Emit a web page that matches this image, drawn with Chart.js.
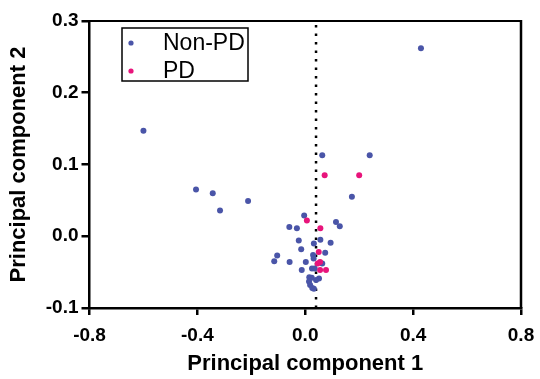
<!DOCTYPE html>
<html>
<head>
<meta charset="utf-8">
<script src="https://cdn.jsdelivr.net/npm/chart.js@4"></script>
<style>
html,body{margin:0;padding:0;background:#fff;}
#wrap{width:540px;height:379px;position:relative;}
</style>
</head>
<body>
<div id="wrap"><canvas id="c" width="540" height="379"></canvas></div>
<script>
// Data
const seriesNames = ["Non-PD", "PD"];
const nonPdX = [0.429,-0.600,-0.405,-0.343,-0.212,-0.316,0.063,0.239,0.173,-0.004,0.114,0.128,-0.059,-0.031,-0.024,0.032,0.056,0.094,-0.015,0.074,0.029,-0.104,-0.115,-0.058,0.002,0.031,0.063,0.025,0.035,-0.013,0.015,0.024,0.051,0.040,0.014,0.018,0.026,0.032];
const nonPdY = [0.262,0.147,0.065,0.060,0.049,0.036,0.113,0.113,0.055,0.029,0.020,0.014,0.013,0.011,-0.006,-0.010,-0.005,-0.009,-0.018,-0.023,-0.026,-0.027,-0.035,-0.036,-0.036,-0.031,-0.038,-0.045,-0.045,-0.047,-0.057,-0.058,-0.059,-0.061,-0.063,-0.068,-0.072,-0.073];
const pdX = [0.072,0.200,0.006,0.056,0.050,0.055,0.046,0.055,0.077];
const pdY = [0.085,0.085,0.022,0.011,-0.022,-0.036,-0.038,-0.047,-0.047];
const refLineX = 0.04;
const xTicks = [-0.8,-0.4,0.0,0.4,0.8];
const yTicks = [-0.1,0.0,0.1,0.2,0.3];
const xTitle = "Principal component 1";
const yTitle = "Principal component 2";

const BLUE = '#4A55A8';
const PINK = '#E8147B';
const FONT = '"Liberation Sans", Arial, sans-serif';
const toPts = (xs, ys) => xs.map((x, i) => ({x: x, y: ys[i]}));

const frame = {
  id: 'frame',
  afterDraw(chart) {
    const {ctx, chartArea: a} = chart;
    ctx.save();
    ctx.strokeStyle = '#000';
    ctx.lineWidth = 2;
    ctx.beginPath();
    ctx.moveTo(a.left, a.top);
    ctx.lineTo(a.right, a.top);
    ctx.stroke();
    ctx.lineWidth = 2.5;
    ctx.beginPath();
    ctx.moveTo(a.right, a.top - 1);
    ctx.lineTo(a.right, a.bottom);
    ctx.stroke();
    // legend
    ctx.lineWidth = 1.5;
    ctx.strokeRect(122, 28, 126, 53);
    const items = [[BLUE, seriesNames[0], 43], [PINK, seriesNames[1], 71]];
    ctx.font = '23px ' + FONT;
    ctx.textBaseline = 'middle';
    ctx.textAlign = 'left';
    items.forEach(([col, txt, y]) => {
      ctx.fillStyle = col;
      ctx.beginPath();
      ctx.arc(131, y, 2.6, 0, Math.PI * 2);
      ctx.fill();
      ctx.fillStyle = '#000';
      ctx.fillText(txt, 163, y + 1);
    });
    ctx.restore();
  }
};

new Chart(document.getElementById('c'), {
  type: 'scatter',
  data: {
    datasets: [
      {label: seriesNames[0], data: toPts(nonPdX, nonPdY), backgroundColor: BLUE, borderColor: BLUE, pointRadius: 3, borderWidth: 0, order: 2},
      {label: seriesNames[1], data: toPts(pdX, pdY), backgroundColor: PINK, borderColor: PINK, pointRadius: 3, borderWidth: 0, order: 1},
      {label: 'ref', data: [{x: refLineX, y: yTicks[0]}, {x: refLineX, y: yTicks[yTicks.length - 1]}], showLine: true, pointRadius: 0, borderColor: '#000', borderWidth: 2.5, borderDash: [2.5, 6], order: 10}
    ]
  },
  options: {
    responsive: false,
    animation: false,
    devicePixelRatio: 1,
    layout: {padding: {left: 0, right: 19, top: 21, bottom: 0}},
    plugins: {legend: {display: false}, tooltip: {enabled: false}},
    scales: {
      x: {
        type: 'linear', min: xTicks[0], max: xTicks[xTicks.length - 1],
        afterBuildTicks: s => { s.ticks = xTicks.map(v => ({value: v})); },
        afterFit: s => { s.height = 71; s.paddingLeft = 0; s.paddingRight = 0; },
        ticks: {color: '#000', font: {family: FONT, size: 19, weight: 'bold'}, padding: 9, callback: v => Number(v).toFixed(1), maxRotation: 0},
        grid: {display: true, drawOnChartArea: false, drawTicks: true, tickLength: 7, color: '#000', lineWidth: 2.5},
        border: {display: true, color: '#000', width: 2.5},
        title: {display: true, text: xTitle, color: '#000', font: {family: FONT, size: 22, weight: 'bold'}, padding: {top: 0, bottom: 2}}
      },
      y: {
        type: 'linear', min: yTicks[0], max: yTicks[yTicks.length - 1],
        afterBuildTicks: s => { s.ticks = yTicks.map(v => ({value: v})); },
        afterFit: s => { s.width = 89.5; s.paddingTop = 0; s.paddingBottom = 0; },
        ticks: {color: '#000', font: {family: FONT, size: 19, weight: 'bold'}, padding: 3, callback: v => Number(v).toFixed(1)},
        grid: {display: true, drawOnChartArea: false, drawTicks: true, tickLength: 8, color: '#000', lineWidth: 2.5},
        border: {display: true, color: '#000', width: 2.5},
        title: {display: true, text: yTitle, color: '#000', font: {family: FONT, size: 22, weight: 'bold'}, padding: {top: 6, bottom: 0}}
      }
    }
  },
  plugins: [frame]
});
</script>
</body>
</html>
